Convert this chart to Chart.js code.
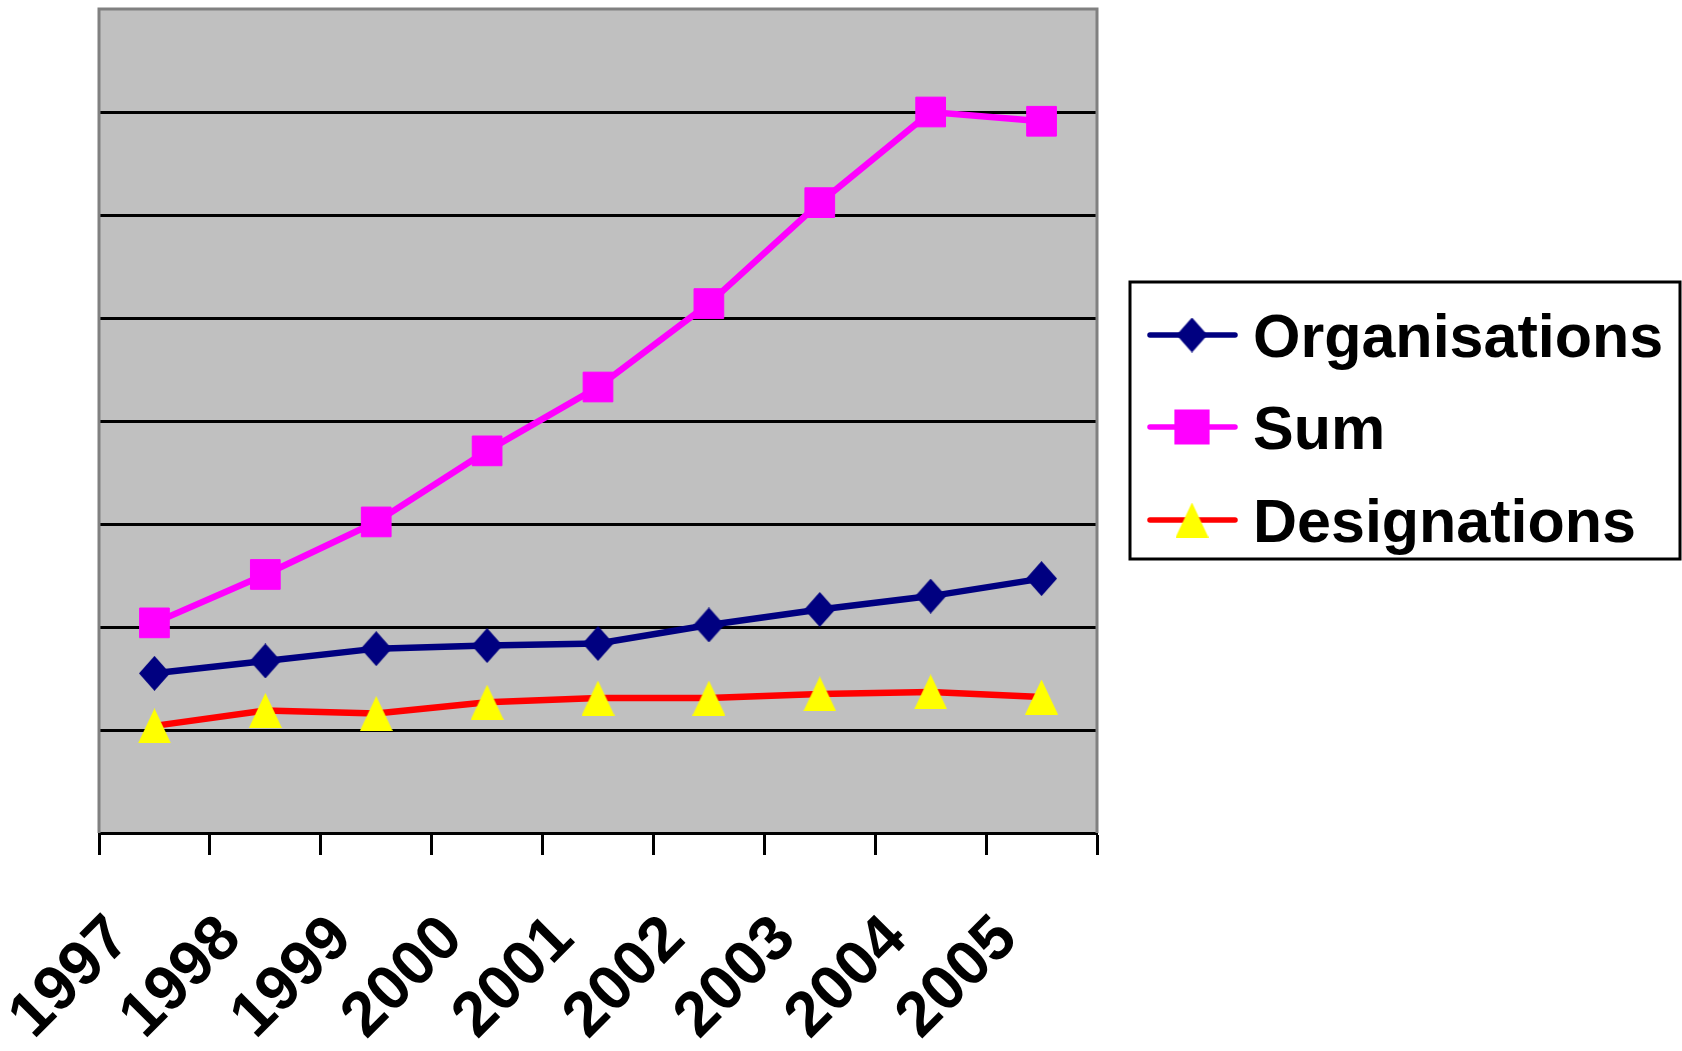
<!DOCTYPE html>
<html>
<head>
<meta charset="utf-8">
<title>Organisations, Sum and Designations 1997–2005</title>
<script src="https://cdn.jsdelivr.net/npm/chart.js@4/dist/chart.umd.min.js"></script>
<style>
  html, body { margin: 0; padding: 0; background: #ffffff; }
  #wrap { width: 1682px; height: 1051px; }
</style>
</head>
<body>
<div id="wrap"><canvas id="chart" width="1682" height="1051"></canvas></div>
<script>
// Yearly series
const years = ['1997', '1998', '1999', '2000', '2001', '2002', '2003', '2004', '2005'];
const organisations = [155, 167, 179, 182, 184, 202, 217, 230, 247];
const sums = [204, 251, 302, 371, 433, 514, 612, 700, 691];
const designations = [104, 119, 116, 127, 131, 131, 135, 137, 132];

// Value axis range (unlabelled gridlines every step)
const yMin = 0;
const yMax = 800;
const yStep = 100;

const FONT = '"Liberation Sans", Arial, sans-serif';

// Marker images: a tall diamond and a tall triangle
function makeMarker(w, h, color, shape) {
  const c = document.createElement('canvas');
  c.width = w; c.height = h;
  const g = c.getContext('2d');
  g.fillStyle = color;
  g.beginPath();
  if (shape === 'diamond') {
    g.moveTo(w / 2, 0);
    g.lineTo(w, h / 2);
    g.lineTo(w / 2, h);
    g.lineTo(0, h / 2);
  } else {
    g.moveTo(w / 2, 0);
    g.lineTo(w, h);
    g.lineTo(0, h);
  }
  g.closePath();
  g.fill();
  return c;
}
const diamond = makeMarker(31, 35, '#000080', 'diamond');
const triangle = makeMarker(33, 35, '#FFFF00', 'triangle');

// Grey plot background with a grey frame on three sides
const plotFrame = {
  id: 'plotFrame',
  beforeDraw(chart) {
    const { ctx, chartArea: a } = chart;
    ctx.save();
    ctx.fillStyle = '#C0C0C0';
    ctx.fillRect(a.left, a.top, a.right - a.left, a.bottom - a.top);
    ctx.restore();
  },
  beforeDatasetsDraw(chart) {
    const { ctx, chartArea: a } = chart;
    ctx.save();
    ctx.strokeStyle = '#808080';
    ctx.lineWidth = 3;
    ctx.beginPath();
    ctx.moveTo(a.left, a.bottom);
    ctx.lineTo(a.left, a.top);
    ctx.lineTo(a.right, a.top);
    ctx.lineTo(a.right, a.bottom);
    ctx.stroke();
    ctx.restore();
  }
};

// Boxed legend to the right of the plot: line sample with marker, then the label
const boxLegend = {
  id: 'boxLegend',
  afterDraw(chart) {
    const { ctx } = chart;
    const box = { left: 1130, top: 282, right: 1680, bottom: 559 };
    const rows = [335, 427, 520];
    ctx.save();
    ctx.strokeStyle = '#000000';
    ctx.lineWidth = 3;
    ctx.strokeRect(box.left, box.top, box.right - box.left, box.bottom - box.top);
    chart.data.datasets.forEach((ds, i) => {
      const y = rows[i];
      ctx.strokeStyle = ds.borderColor;
      ctx.lineWidth = 5.5;
      ctx.lineCap = 'round';
      ctx.beginPath();
      ctx.moveTo(1150, y);
      ctx.lineTo(1235, y);
      ctx.stroke();
      ctx.fillStyle = ds.pointBackgroundColor;
      ctx.strokeStyle = ds.pointBorderColor;
      Chart.helpers.drawPoint(ctx, {
        pointStyle: ds.pointStyle,
        radius: ds.pointRadius,
        rotation: 0,
        borderWidth: ds.pointBorderWidth
      }, 1192, y);
      ctx.fillStyle = '#000000';
      ctx.font = 'bold 61px ' + FONT;
      ctx.textBaseline = 'alphabetic';
      ctx.textAlign = 'left';
      ctx.fillText(ds.label, 1253, y + 22);
    });
    ctx.restore();
  }
};

new Chart(document.getElementById('chart'), {
  type: 'line',
  data: {
    labels: years,
    datasets: [
      {
        label: 'Organisations',
        data: organisations,
        borderColor: '#000080',
        borderWidth: 6.5,
        pointStyle: diamond,
        pointRadius: 17,
        pointBackgroundColor: '#000080',
        pointBorderColor: '#000080',
        pointBorderWidth: 0,
        tension: 0
      },
      {
        label: 'Sum',
        data: sums,
        borderColor: '#FF00FF',
        borderWidth: 6.5,
        pointStyle: 'rect',
        pointRadius: 21,
        pointBackgroundColor: '#FF00FF',
        pointBorderColor: '#FF00FF',
        pointBorderWidth: 1,
        tension: 0
      },
      {
        label: 'Designations',
        data: designations,
        borderColor: '#FF0000',
        borderWidth: 6.5,
        pointStyle: triangle,
        pointRadius: 17,
        pointBackgroundColor: '#FFFF00',
        pointBorderColor: '#FFFF00',
        pointBorderWidth: 0,
        tension: 0
      }
    ]
  },
  options: {
    responsive: false,
    animation: false,
    layout: { autoPadding: false, padding: { left: 99, top: 9, right: 585, bottom: 0 } },
    plugins: {
      legend: { display: false },
      tooltip: { enabled: false },
      title: { display: false }
    },
    scales: {
      x: {
        offset: true,
        grid: {
          offset: true,
          drawOnChartArea: false,
          drawTicks: true,
          tickLength: 22,
          tickWidth: 3,
          tickColor: '#000000'
        },
        border: { display: true, color: '#000000', width: 3 },
        ticks: {
          autoSkip: false,
          minRotation: 45,
          maxRotation: 45,
          labelOffset: -34,
          padding: 47,
          color: '#000000',
          font: { family: FONT, size: 63, weight: 'bold' }
        },
        afterFit(scale) { scale.height = 218; }
      },
      y: {
        min: yMin,
        max: yMax,
        ticks: { display: false, stepSize: yStep },
        grid: {
          drawTicks: false,
          lineWidth: 3,
          color: (c) => (c.tick && c.tick.value === yMax ? 'rgba(0,0,0,0)' : '#000000')
        },
        border: { display: false },
        afterFit(scale) { scale.width = 0; }
      }
    }
  },
  plugins: [plotFrame, boxLegend]
});
</script>
</body>
</html>
